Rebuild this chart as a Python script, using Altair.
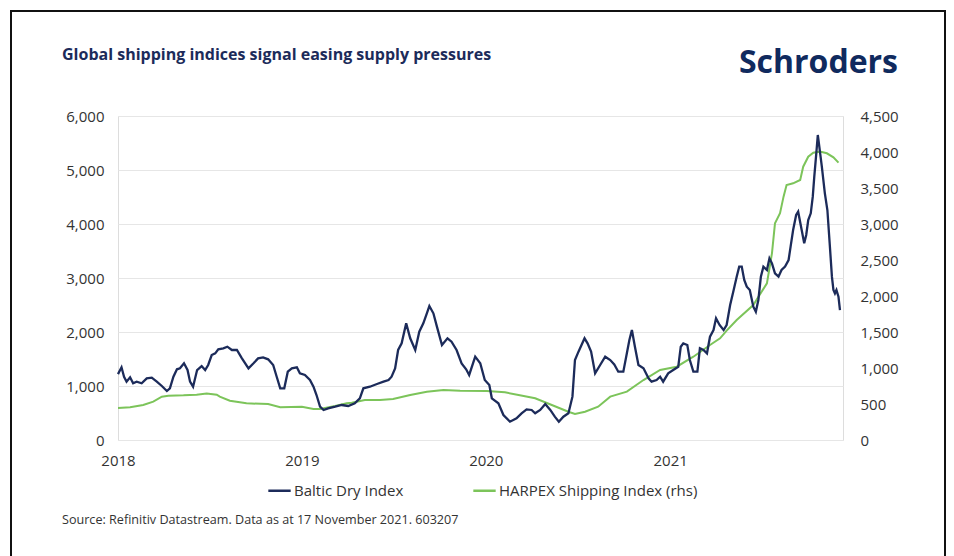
import altair as alt
import pandas as pd

bdi_dates = [
    "2018-01-01","2018-01-08","2018-01-13","2018-01-18","2018-01-25","2018-01-31","2018-02-07","2018-02-17","2018-02-27",
    "2018-03-09","2018-03-19","2018-03-29","2018-04-08","2018-04-14","2018-04-21","2018-04-28","2018-05-04","2018-05-12",
    "2018-05-19","2018-05-24","2018-05-30","2018-06-07","2018-06-16","2018-06-23","2018-06-29","2018-07-06","2018-07-13",
    "2018-07-19","2018-07-29","2018-08-06","2018-08-15","2018-08-25","2018-09-04","2018-09-17","2018-09-27","2018-10-06",
    "2018-10-16","2018-10-26","2018-11-05","2018-11-12","2018-11-19","2018-11-27","2018-12-04","2018-12-12","2018-12-22",
    "2018-12-28",
    "2019-01-07","2019-01-17","2019-01-24","2019-01-30","2019-02-06","2019-02-13","2019-02-22","2019-03-08","2019-03-21",
    "2019-04-03","2019-04-16","2019-04-26","2019-05-03","2019-05-16","2019-05-30","2019-06-12","2019-06-22","2019-06-28",
    "2019-07-05","2019-07-11","2019-07-18","2019-07-27","2019-08-04","2019-08-14","2019-08-22","2019-08-30","2019-09-06",
    "2019-09-11","2019-09-19","2019-09-26","2019-10-06","2019-10-17","2019-10-25","2019-11-04","2019-11-14","2019-11-23",
    "2019-11-29","2019-12-11","2019-12-21","2019-12-30",
    "2020-01-08","2020-01-13","2020-01-26","2020-02-05","2020-02-18","2020-03-02","2020-03-12","2020-03-22","2020-04-01",
    "2020-04-08","2020-04-18","2020-04-28","2020-05-08","2020-05-17","2020-05-25","2020-06-03","2020-06-13","2020-06-21",
    "2020-06-26","2020-07-03","2020-07-09","2020-07-15","2020-07-21","2020-07-28","2020-08-05","2020-08-15","2020-08-25",
    "2020-09-04","2020-09-12","2020-09-20","2020-09-30","2020-10-07","2020-10-12","2020-10-17","2020-10-23","2020-10-30",
    "2020-11-09","2020-11-19","2020-11-25","2020-12-05","2020-12-12","2020-12-18","2020-12-28",
    "2021-01-07","2021-01-17","2021-01-22","2021-01-27","2021-02-04","2021-02-09","2021-02-16","2021-02-24","2021-03-01",
    "2021-03-08","2021-03-15","2021-03-21","2021-03-28","2021-04-02","2021-04-09","2021-04-17","2021-04-23","2021-04-30",
    "2021-05-07","2021-05-13","2021-05-18","2021-05-23","2021-05-28","2021-06-02","2021-06-08","2021-06-15","2021-06-20",
    "2021-06-25","2021-06-30","2021-07-05","2021-07-12","2021-07-17","2021-07-22","2021-07-28","2021-08-04","2021-08-10",
    "2021-08-17","2021-08-24","2021-08-28","2021-09-02","2021-09-08","2021-09-12","2021-09-19","2021-09-24","2021-09-28",
    "2021-10-02","2021-10-07","2021-10-11","2021-10-14","2021-10-18","2021-10-21","2021-10-24","2021-10-29","2021-11-04",
    "2021-11-09","2021-11-14","2021-11-18","2021-11-21","2021-11-24","2021-11-27","2021-12-01","2021-12-04",
]
bdi_values = [
    1220,1346,1172,1080,1161,1050,1080,1050,1142,
    1154,1080,1000,907,957,1172,1309,1327,1420,
    1296,1080,987,1296,1370,1296,1389,1574,1605,
    1679,1698,1728,1667,1667,1512,1327,1420,1512,
    1531,1494,1389,1172,957,957,1265,1327,1346,
    1235,
    1204,1111,987,833,617,556,587,617,648,
    630,679,772,957,987,1037,1080,1111,1172,
    1327,1667,1790,2160,1883,1667,2006,2160,2346,
    2481,2346,2099,1759,1883,1821,1667,1420,1309,
    1204,1543,1420,1111,
    1019,772,679,463,339,401,494,568,556,
    494,556,667,556,432,339,432,494,802,
    1481,1636,1759,1883,1790,1636,1235,1389,1543,
    1481,1400,1265,1265,1605,1852,2037,1728,1389,
    1327,1142,1080,1111,1172,1080,1235,
    1296,1357,1728,1790,1759,1481,1265,1265,1698,
    1667,1605,1913,2037,2253,2130,2037,2130,2500,
    2778,3025,3210,3210,2963,2839,2778,2469,2376,
    2593,3025,3210,3148,3364,3272,3086,3025,3148,
    3210,3333,3580,3889,4167,4228,3889,3642,3796,
    4074,4198,4506,4876,5309,5648,5432,5062,4568,
    4259,3580,3025,2778,2716,2778,2654,2407,
]

harpex_dates = [
    "2018-01-01","2018-01-25","2018-02-20","2018-03-12","2018-03-29","2018-04-11","2018-05-11","2018-06-06","2018-06-26",
    "2018-07-16","2018-07-22","2018-08-11","2018-09-13","2018-10-26","2018-11-19",
    "2019-01-01","2019-01-24","2019-02-06","2019-03-08","2019-03-31","2019-04-10","2019-05-06","2019-06-05","2019-07-01",
    "2019-08-04","2019-09-06","2019-10-09","2019-11-11",
    "2020-01-03","2020-02-08","2020-03-06","2020-04-08","2020-05-11","2020-06-13","2020-06-26","2020-07-16","2020-08-11",
    "2020-09-04","2020-10-07","2020-11-09","2020-12-12",
    "2021-01-14","2021-02-16","2021-03-21","2021-04-10","2021-04-23","2021-05-13","2021-06-15","2021-07-12","2021-07-22",
    "2021-07-28","2021-08-07","2021-08-14","2021-08-20","2021-09-02","2021-09-16","2021-09-22","2021-10-02","2021-10-12",
    "2021-10-25","2021-11-08","2021-11-21","2021-12-01",
]
harpex_values = [
    444,454,486,532,602,615,620,630,645,
    630,602,546,509,500,454,
    463,430,430,472,509,518,556,556,570,
    625,671,694,685,
    681,662,625,579,486,393,361,393,463,
    602,671,833,972,
    1018,1157,1319,1412,1520,1667,1875,2176,2593,
    3010,3149,3380,3542,3565,3611,3796,3935,3991,
    4005,3982,3926,3852,
]

series_names = ["Baltic Dry Index", "HARPEX Shipping Index (rhs)"]
series_colors = ["#1c2b5a", "#7cc45a"]
left_ticks = [0, 1000, 2000, 3000, 4000, 5000, 6000]
right_ticks = [0, 500, 1000, 1500, 2000, 2500, 3000, 3500, 4000, 4500]

title_text = "Global shipping indices signal easing supply pressures"
logo_text = "Schroders"
source_text = "Source: Refinitiv Datastream. Data as at 17 November 2021. 603207"

bdi_df = pd.DataFrame({"date": bdi_dates, "value": bdi_values, "series": series_names[0]})
harpex_df = pd.DataFrame({"date": harpex_dates, "value": harpex_values, "series": series_names[1]})

FONT = "Open Sans"
x_scale = alt.Scale(domain=[alt.DateTime(year=2018, month=1, date=1),
                            alt.DateTime(year=2021, month=12, date=10)])
x_enc = alt.X("date:T", scale=x_scale,
              axis=alt.Axis(title=None, format="%Y", tickCount="year", grid=False, ticks=False,
                            domain=False, labelFontSize=15, labelColor="#333333", labelPadding=13,
                            labelFont=FONT, labelFlush=False))
color_enc = alt.Color("series:N",
                      scale=alt.Scale(domain=series_names, range=series_colors),
                      legend=alt.Legend(title=None, orient="none", legendX=149, legendY=362,
                                        direction="horizontal", symbolType="stroke",
                                        symbolSize=500, symbolStrokeWidth=2.5,
                                        labelFontSize=15, labelFont=FONT, labelColor="#333333",
                                        labelOffset=2, columnPadding=64, labelLimit=0))

bdi = alt.Chart(bdi_df).mark_line(strokeWidth=2.3).encode(
    x=x_enc,
    y=alt.Y("value:Q", scale=alt.Scale(domain=[0, 6000], nice=False),
            axis=alt.Axis(title=None, values=left_ticks, format=",d", ticks=False, domain=False,
                          grid=True, gridColor="#e6e6e6", labelFontSize=15, labelColor="#333333",
                          labelPadding=14, labelFont=FONT)),
    color=color_enc,
)

harpex = alt.Chart(harpex_df).mark_line(strokeWidth=2).encode(
    x=x_enc,
    y=alt.Y("value:Q", scale=alt.Scale(domain=[0, 4500], nice=False),
            axis=alt.Axis(title=None, orient="right", values=right_ticks, format=",d", ticks=False,
                          domain=False, grid=False, labelFontSize=15, labelColor="#333333",
                          labelPadding=17, labelFont=FONT)),
    color=color_enc,
)

lines = alt.layer(harpex, bdi).resolve_scale(y="independent")

title = alt.Chart(pd.DataFrame({"t": [title_text]})).mark_text(
    align="left", baseline="middle", font=FONT, fontSize=16, fontWeight="bold", color="#1c2b5a"
).encode(text="t:N", x=alt.value(-56), y=alt.value(-61))

logo = alt.Chart(pd.DataFrame({"t": [logo_text]})).mark_text(
    align="right", baseline="middle", font=FONT, fontSize=32, fontWeight="bold", color="#102a5e"
).encode(text="t:N", x=alt.value(780), y=alt.value(-53))

source = alt.Chart(pd.DataFrame({"t": [source_text]})).mark_text(
    align="left", baseline="middle", font=FONT, fontSize=12.6, color="#333333"
).encode(text="t:N", x=alt.value(-56), y=alt.value(404))

frame = alt.Chart(pd.DataFrame({"a": [0]})).mark_rect(
    filled=False, stroke="#111111", strokeWidth=2
).encode(x=alt.value(-107), x2=alt.value(827), y=alt.value(-105), y2=alt.value(480))

chart = alt.layer(lines, title, logo, source, frame).properties(
    width=725, height=324,
    autosize=alt.AutoSizeParams(type="none"),
    padding={"left": 118, "top": 116, "right": 111, "bottom": 116},
).configure_view(stroke=None).configure(background="white")

chart.save("out.html", embed_options={"renderer": "svg", "actions": False})
